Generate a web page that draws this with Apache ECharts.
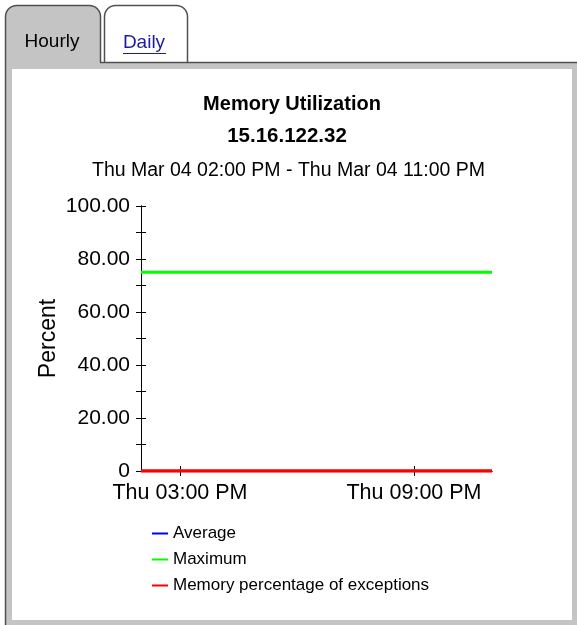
<!DOCTYPE html>
<html>
<head>
<meta charset="utf-8">
<script src="https://cdn.jsdelivr.net/npm/echarts@6/dist/echarts.min.js"></script>
<style>
html,body{margin:0;padding:0;background:#fff;}
#chart{width:577px;height:625px;}
</style>
</head>
<body>
<div id="chart"></div>
<script>
// ---- data ----
const hours = [14, 15, 16, 17, 18, 19, 20, 21, 22, 23];
const averageValues = [];
const maximumValues = [75, 75, 75, 75, 75, 75, 75, 75, 75, 75];
const exceptionValues = [0, 0, 0, 0, 0, 0, 0, 0, 0, 0];
const xTickValues = [15, 21];
const xTickLabels = ['Thu 03:00 PM', 'Thu 09:00 PM'];
const yTickValues = [0, 20, 40, 60, 80, 100];
const yTickLabels = ['0', '20.00', '40.00', '60.00', '80.00', '100.00'];
const seriesNames = ['Average', 'Maximum', 'Memory percentage of exceptions'];
const titleText = 'Memory Utilization';
const hostText = '15.16.122.32';
const rangeText = 'Thu Mar 04 02:00 PM - Thu Mar 04 11:00 PM';
const tabLabels = ['Hourly', 'Daily'];

const FONT = '"Liberation Sans", Arial, sans-serif';
const chart = echarts.init(document.getElementById('chart'), null, {renderer: 'canvas'});

function pairs(vals) { return vals.map((v, i) => [hours[i], v]); }

// rounded tab outline as polyline points (open bottom)
function tabOutline(x0, x1, yTop, yBottomLeft, yBottomRight, r) {
  const pts = [[x0, yBottomLeft], [x0, yTop + r]];
  for (let k = 1; k < 8; k++) {
    const a = Math.PI + (Math.PI / 2) * k / 8;
    pts.push([x0 + r + r * Math.cos(a), yTop + r + r * Math.sin(a)]);
  }
  pts.push([x0 + r, yTop], [x1 - r, yTop]);
  for (let k = 1; k < 8; k++) {
    const a = 1.5 * Math.PI + (Math.PI / 2) * k / 8;
    pts.push([x1 - r + r * Math.cos(a), yTop + r + r * Math.sin(a)]);
  }
  pts.push([x1, yTop + r], [x1, yBottomRight]);
  return pts;
}

const xBase = {
  type: 'value', min: 14, max: 23, position: 'bottom',
  splitLine: {show: false},
  axisLine: {show: true, lineStyle: {color: '#000', width: 1}}
};
const yBase = {
  type: 'value', min: 0, max: 100, interval: 20, position: 'left',
  splitLine: {show: false},
  minorSplitLine: {show: false},
  axisLine: {show: true, lineStyle: {color: '#000', width: 1}}
};

const option = {
  backgroundColor: '#ffffff',
  animation: false,
  title: [
    {text: titleText, left: 287, top: 89, textAlign: 'center',
     textStyle: {fontFamily: FONT, fontSize: 20, fontWeight: 'bold', color: '#000'}},
    {text: hostText, left: 282, top: 121, textAlign: 'center',
     textStyle: {fontFamily: FONT, fontSize: 20.5, fontWeight: 'bold', color: '#000'}},
    {text: rangeText, left: 283.5, top: 156, textAlign: 'center',
     textStyle: {fontFamily: FONT, fontSize: 19.5, fontWeight: 'normal', color: '#000'}}
  ],
  legend: {
    orient: 'vertical', left: 152, top: 525, padding: 0,
    data: seriesNames,
    icon: 'rect', itemWidth: 16, itemHeight: 2, itemGap: 9,
    textStyle: {fontFamily: FONT, fontSize: 17, color: '#000'},
    selectedMode: false
  },
  grid: {left: 141, right: 85, top: 206, bottom: 154, containLabel: false},
  xAxis: [
    Object.assign({}, xBase, {
      axisTick: {show: true, length: 5, inside: false, customValues: xTickValues, lineStyle: {color: '#000'}},
      axisLabel: {show: true, margin: 11, customValues: xTickValues,
        formatter: v => xTickLabels[xTickValues.indexOf(v)] || '',
        fontFamily: FONT, fontSize: 21.5, color: '#000'}
    }),
    Object.assign({}, xBase, {
      axisTick: {show: true, length: 5, inside: true, customValues: xTickValues, lineStyle: {color: '#000'}},
      axisLabel: {show: false}
    })
  ],
  yAxis: [
    Object.assign({}, yBase, {
      name: 'Percent', nameLocation: 'middle', nameGap: 81, nameRotate: 90, nameMoveOverlap: false,
      nameTextStyle: {fontFamily: FONT, fontSize: 23, color: '#000'},
      axisTick: {show: true, length: 5, inside: false, lineStyle: {color: '#000'}},
      minorTick: {show: true, splitNumber: 2, length: 5, lineStyle: {color: '#000'}},
      axisLabel: {show: true, margin: 11,
        formatter: v => yTickLabels[yTickValues.indexOf(v)] || '',
        fontFamily: FONT, fontSize: 21, color: '#000'}
    }),
    Object.assign({}, yBase, {
      axisTick: {show: true, length: 5, inside: true, lineStyle: {color: '#000'}},
      minorTick: {show: true, splitNumber: 2, length: 5, lineStyle: {color: '#000'}},
      axisLabel: {show: false}
    })
  ],
  series: [
    {name: seriesNames[0], type: 'line', data: pairs(averageValues), showSymbol: false,
     color: '#0000ff', lineStyle: {color: '#0000ff', width: 3}},
    {name: seriesNames[1], type: 'line', data: pairs(maximumValues), showSymbol: false,
     color: '#00ff00', lineStyle: {color: '#00ff00', width: 3}},
    {name: seriesNames[2], type: 'line', data: pairs(exceptionValues), showSymbol: false,
     color: '#ff0000', lineStyle: {color: '#ff0000', width: 3.5}}
  ],
  graphic: [
    {type: 'rect', z: -10, silent: true, shape: {x: 5, y: 62, width: 572, height: 563}, style: {fill: '#c4c4c4'}},
    {type: 'rect', z: -10, silent: true, shape: {x: 5.5, y: 5.5, width: 95, height: 62, r: [11, 11, 0, 0]}, style: {fill: '#c4c4c4'}},
    {type: 'rect', z: -10, silent: true, shape: {x: 104.5, y: 5.5, width: 83, height: 57, r: [11, 11, 0, 0]}, style: {fill: '#ffffff'}},
    {type: 'rect', z: -9, silent: true, shape: {x: 12, y: 69, width: 560, height: 551}, style: {fill: '#ffffff'}},
    {type: 'polyline', z: -8, silent: true, shape: {points: tabOutline(5.5, 100.5, 5.5, 625, 62.5, 11)},
     style: {fill: null, stroke: '#505050', lineWidth: 1.5}},
    {type: 'polyline', z: -8, silent: true, shape: {points: tabOutline(104.5, 187.5, 5.5, 62.5, 62.5, 11)},
     style: {fill: null, stroke: '#505050', lineWidth: 1.5}},
    {type: 'line', z: -8, silent: true, shape: {x1: 100, y1: 62.5, x2: 577, y2: 62.5},
     style: {stroke: '#505050', lineWidth: 1.5}},
    {type: 'text', z: -7, silent: true,
     style: {text: tabLabels[0], x: 52, y: 42, textAlign: 'center', textVerticalAlign: 'middle',
             font: '19px ' + FONT, fill: '#000'}},
    {type: 'text', z: -7, silent: true,
     style: {text: tabLabels[1], x: 144, y: 43, textAlign: 'center', textVerticalAlign: 'middle',
             font: '19px ' + FONT, fill: '#1c1c9c'}},
    {type: 'line', z: -7, silent: true, shape: {x1: 123, y1: 53.5, x2: 166, y2: 53.5},
     style: {stroke: '#1c1c9c', lineWidth: 1}}
  ]
};
chart.setOption(option);
</script>
</body>
</html>
